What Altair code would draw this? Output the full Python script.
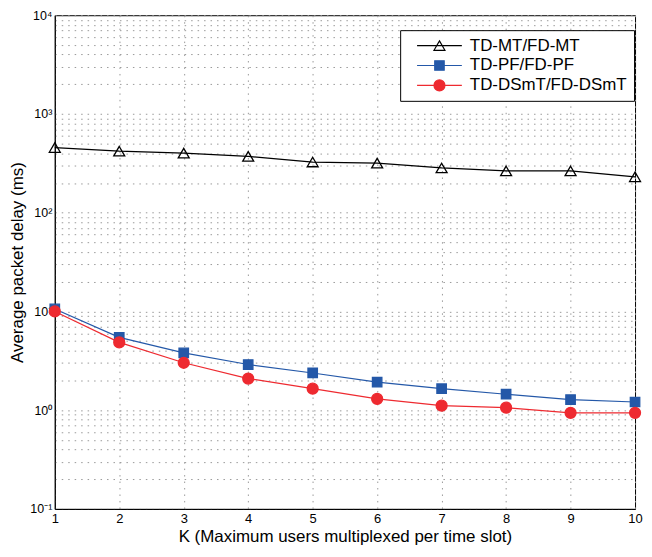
import altair as alt
import pandas as pd

k_values = [1, 2, 3, 4, 5, 6, 7, 8, 9, 10]
mt_delay = [457, 420, 401, 372, 326, 318, 284, 265, 265, 231]
pf_delay = [10.6, 5.46, 3.8, 2.9, 2.38, 1.92, 1.65, 1.45, 1.28, 1.21]
dsmt_delay = [10.0, 4.86, 3.02, 2.09, 1.65, 1.30, 1.11, 1.06, 0.94, 0.94]

series_names = ["TD-MT/FD-MT", "TD-PF/FD-PF", "TD-DSmT/FD-DSmT"]
stroke_colors = ["#000000", "#2458a8", "#ee2a30"]
fill_colors = ["transparent", "#2458a8", "#ee2a30"]
marker_shapes = ["triangle-up", "square", "circle"]
marker_sizes = [121, 90, 121]

legend_paths = [
    "M-4.5,0H4.5M0,-0.95L1.1,0.95L-1.1,0.95Z",
    "M-4.5,0H4.5M-0.95,-0.95H0.95V0.95H-0.95Z",
    "M-4.5,0H4.5M1.1,0A1.1,1.1,0,1,1,-1.1,0A1.1,1.1,0,1,1,1.1,0Z",
]

rows = []
for name, vals in zip(series_names, [mt_delay, pf_delay, dsmt_delay]):
    for k, v in zip(k_values, vals):
        rows.append({"K": k, "delay": v, "series": name})
df = pd.DataFrame(rows)

font = "Liberation Sans"

sup = {-1: "⁻¹", 0: "⁰", 1: "¹", 2: "²", 3: "³", 4: "⁴"}
e_expr = "round(log(datum.value)/LN10)"
inner = "''"
for e in sorted(sup.keys(), reverse=True):
    inner = f"({e_expr} == {e} ? '{sup[e]}' : {inner})"
label_expr = f"abs(log(datum.value)/LN10 - {e_expr}) > 0.001 ? '' : '10' + {inner}"

y_ticks = [m * 10.0 ** e for e in range(-1, 4) for m in range(1, 10)] + [10000.0]

x_enc = alt.X(
    "K:Q",
    scale=alt.Scale(domain=[1, 10], nice=False),
    axis=alt.Axis(
        values=k_values,
        title="K (Maximum users multiplexed per time slot)",
        labelFlush=False,
        ticks=False,
        labelPadding=4,
        titlePadding=3,
    ),
)
y_enc = alt.Y(
    "delay:Q",
    scale=alt.Scale(type="log", domain=[0.1, 10000], nice=False),
    axis=alt.Axis(
        values=y_ticks,
        labelExpr=label_expr,
        labelOverlap=False,
        title="Average packet delay (ms)",
        ticks=False,
        labelPadding=3,
        titlePadding=3,
        labelFontSize=12.5,
    ),
)

stroke_scale = alt.Scale(domain=series_names, range=stroke_colors)
fill_scale = alt.Scale(domain=series_names, range=fill_colors)

lines = alt.Chart(df).mark_line(strokeWidth=1.2).encode(
    x=x_enc,
    y=y_enc,
    stroke=alt.Stroke("series:N", scale=stroke_scale, legend=None),
    detail="series:N",
)

point_layers = []
for name, shp, sz in zip(series_names, marker_shapes, marker_sizes):
    point_layers.append(
        alt.Chart(df)
        .transform_filter(alt.datum.series == name)
        .mark_point(shape=shp, size=sz, strokeWidth=1.3, opacity=1)
        .encode(
            x=x_enc,
            y=y_enc,
            stroke=alt.Stroke("series:N", scale=stroke_scale, legend=None),
            fill=alt.Fill("series:N", scale=fill_scale, legend=None),
        )
    )

legend_layer = (
    alt.Chart(df)
    .transform_filter("false")
    .mark_point(opacity=1, filled=True)
    .encode(
        x=x_enc,
        y=y_enc,
        stroke=alt.Stroke("series:N", scale=stroke_scale, legend=alt.Legend(title=None)),
        fill=alt.Fill("series:N", scale=fill_scale, legend=alt.Legend(title=None)),
        shape=alt.Shape(
            "series:N",
            scale=alt.Scale(domain=series_names, range=legend_paths),
            legend=alt.Legend(title=None),
        ),
    )
)

chart = (
    alt.layer(lines, *point_layers, legend_layer)
    .resolve_scale(stroke="independent", fill="independent", shape="independent")
    .properties(
        width=583,
        height=496,
        padding={"left": 0, "top": 0, "right": 0, "bottom": 0},
    )
    .configure_view(stroke="black", strokeWidth=1)
    .configure_axis(
        labelFont=font,
        titleFont=font,
        labelFontSize=13,
        titleFontSize=17,
        titleFontWeight="normal",
        labelColor="#000000",
        titleColor="#000000",
        domainColor="#000000",
        gridColor="#999999",
        gridDash=[1.5, 5],
        gridWidth=1,
        gridOpacity=1,
    )
    .configure_legend(
        orient="none",
        legendX=347,
        legendY=15,
        strokeColor="#000000",
        fillColor="#ffffff",
        padding=7,
        labelFont=font,
        labelFontSize=17,
        labelColor="#000000",
        symbolSize=100,
        symbolStrokeWidth=1.2,
        symbolOffset=24,
        labelOffset=22,
        rowPadding=2,
        cornerRadius=0,
    )
)

chart.save("out.html", embed_options={"renderer": "svg", "actions": False})
